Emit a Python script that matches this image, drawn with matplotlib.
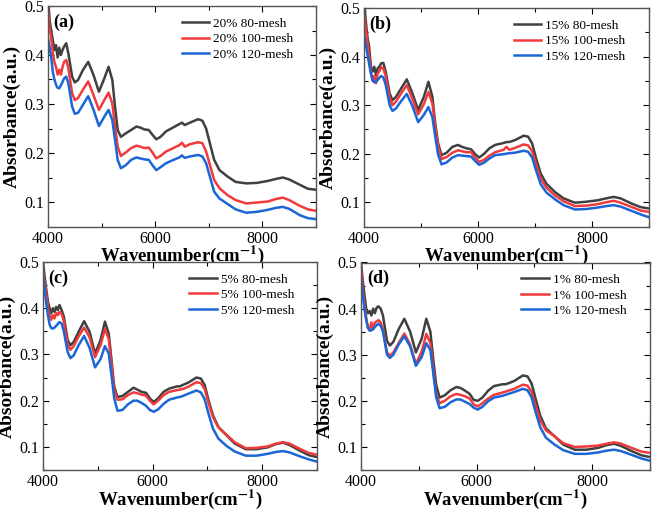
import matplotlib
matplotlib.use("Agg")
import matplotlib.pyplot as plt
from matplotlib.ticker import MultipleLocator

plt.rcParams['font.family'] = ['Liberation Serif', 'DejaVu Serif']
plt.rcParams['mathtext.fontset'] = 'stix'

wavenumber = [4000, 4030, 4060, 4090, 4120, 4150, 4180, 4210, 4240, 4270, 4300, 4340, 4380,
              4450, 4500, 4560, 4650, 4750, 4850, 4950, 5050, 5130, 5200, 5250, 5300, 5360,
              5450, 5550, 5650, 5720, 5800, 5880, 5950, 6020, 6100, 6200, 6300, 6450, 6500,
              6550, 6650, 6800, 6880, 6950, 7020, 7100, 7200, 7350, 7500, 7700, 7900, 8100,
              8250, 8380, 8500, 8700, 8850, 9000]

# (a) 20%
a_80 = [0.52, 0.47, 0.45, 0.43, 0.41, 0.42, 0.395, 0.415, 0.40, 0.41, 0.417, 0.424, 0.403,
        0.356, 0.344, 0.349, 0.369, 0.386, 0.359, 0.325, 0.352, 0.376, 0.349, 0.295, 0.247, 0.233,
        0.240, 0.247, 0.254, 0.252, 0.248, 0.247, 0.237, 0.228, 0.233, 0.244, 0.250, 0.259, 0.262,
        0.257, 0.262, 0.269, 0.266, 0.250, 0.220, 0.186, 0.165, 0.152, 0.141, 0.138, 0.139, 0.143,
        0.147, 0.150, 0.146, 0.135, 0.127, 0.125]
a_100 = [0.49, 0.455, 0.435, 0.405, 0.385, 0.375, 0.36, 0.37, 0.36, 0.375, 0.386, 0.39, 0.373,
         0.322, 0.308, 0.312, 0.329, 0.346, 0.318, 0.288, 0.308, 0.323, 0.301, 0.254, 0.213, 0.194,
         0.201, 0.210, 0.215, 0.213, 0.210, 0.211, 0.201, 0.189, 0.194, 0.203, 0.208, 0.216, 0.221,
         0.213, 0.218, 0.222, 0.220, 0.203, 0.176, 0.145, 0.128, 0.114, 0.104, 0.097, 0.099, 0.101,
         0.106, 0.109, 0.104, 0.092, 0.085, 0.082]
a_120 = [0.435, 0.415, 0.395, 0.365, 0.35, 0.339, 0.333, 0.332, 0.338, 0.345, 0.352, 0.356, 0.342,
         0.295, 0.280, 0.282, 0.298, 0.316, 0.288, 0.255, 0.274, 0.288, 0.267, 0.227, 0.186, 0.169,
         0.175, 0.186, 0.191, 0.189, 0.187, 0.186, 0.175, 0.165, 0.171, 0.179, 0.184, 0.191, 0.195,
         0.190, 0.193, 0.196, 0.193, 0.179, 0.152, 0.121, 0.107, 0.096, 0.085, 0.078, 0.080, 0.084,
         0.088, 0.090, 0.086, 0.073, 0.067, 0.065]

# (b) 15%
b_80 = [0.52, 0.475, 0.44, 0.42, 0.38, 0.369, 0.379, 0.362, 0.376, 0.379, 0.386, 0.387, 0.369,
        0.324, 0.31, 0.317, 0.334, 0.353, 0.324, 0.29, 0.317, 0.348, 0.317, 0.262, 0.221, 0.197,
        0.202, 0.214, 0.218, 0.214, 0.211, 0.209, 0.199, 0.192, 0.199, 0.211, 0.218, 0.222, 0.224,
        0.224, 0.228, 0.237, 0.235, 0.221, 0.19, 0.159, 0.138, 0.121, 0.108, 0.099, 0.101, 0.104,
        0.108, 0.111, 0.108, 0.097, 0.090, 0.087]
b_100 = [0.49, 0.46, 0.43, 0.40, 0.37, 0.35, 0.36, 0.345, 0.365, 0.37, 0.378, 0.375, 0.36,
         0.315, 0.300, 0.307, 0.324, 0.341, 0.313, 0.281, 0.302, 0.327, 0.303, 0.255, 0.215, 0.189,
         0.193, 0.202, 0.207, 0.205, 0.203, 0.203, 0.192, 0.183, 0.187, 0.196, 0.203, 0.208, 0.214,
         0.208, 0.212, 0.219, 0.217, 0.205, 0.178, 0.148, 0.130, 0.114, 0.102, 0.092, 0.093, 0.096,
         0.100, 0.103, 0.099, 0.090, 0.083, 0.080]
b_120 = [0.445, 0.425, 0.405, 0.385, 0.365, 0.352, 0.347, 0.348, 0.352, 0.356, 0.360, 0.357, 0.342,
         0.300, 0.288, 0.293, 0.308, 0.323, 0.298, 0.265, 0.280, 0.296, 0.275, 0.235, 0.198, 0.178,
         0.182, 0.192, 0.197, 0.196, 0.195, 0.194, 0.185, 0.177, 0.181, 0.190, 0.197, 0.199, 0.200,
         0.201, 0.202, 0.206, 0.204, 0.192, 0.165, 0.137, 0.120, 0.106, 0.094, 0.085, 0.086, 0.089,
         0.092, 0.094, 0.091, 0.082, 0.075, 0.069]

# (c) 5%
c_80 = [0.50, 0.468, 0.44, 0.414, 0.40, 0.389, 0.40, 0.392, 0.403, 0.396, 0.407, 0.396, 0.382,
        0.331, 0.320, 0.327, 0.349, 0.372, 0.349, 0.302, 0.331, 0.371, 0.345, 0.288, 0.23, 0.208,
        0.210, 0.219, 0.228, 0.224, 0.219, 0.217, 0.205, 0.197, 0.205, 0.219, 0.226, 0.231, 0.231,
        0.234, 0.239, 0.250, 0.248, 0.234, 0.201, 0.169, 0.143, 0.125, 0.107, 0.095, 0.095, 0.099,
        0.106, 0.109, 0.104, 0.091, 0.082, 0.078]
c_100 = [0.48, 0.455, 0.43, 0.40, 0.385, 0.375, 0.385, 0.378, 0.39, 0.385, 0.392, 0.388, 0.372,
         0.321, 0.310, 0.318, 0.339, 0.358, 0.337, 0.294, 0.320, 0.355, 0.333, 0.280, 0.224, 0.202,
         0.203, 0.212, 0.218, 0.216, 0.213, 0.211, 0.200, 0.192, 0.200, 0.212, 0.219, 0.223, 0.224,
         0.225, 0.230, 0.240, 0.238, 0.225, 0.195, 0.165, 0.142, 0.126, 0.110, 0.097, 0.098, 0.101,
         0.107, 0.110, 0.107, 0.095, 0.087, 0.083]
c_120 = [0.475, 0.44, 0.41, 0.385, 0.365, 0.357, 0.356, 0.358, 0.362, 0.366, 0.370, 0.367, 0.350,
         0.305, 0.292, 0.298, 0.320, 0.340, 0.314, 0.272, 0.290, 0.318, 0.302, 0.255, 0.205, 0.178,
         0.180, 0.192, 0.200, 0.200, 0.195, 0.189, 0.180, 0.176, 0.181, 0.193, 0.202, 0.207, 0.208,
         0.210, 0.215, 0.222, 0.218, 0.203, 0.172, 0.140, 0.118, 0.102, 0.090, 0.081, 0.081, 0.085,
         0.089, 0.091, 0.088, 0.079, 0.073, 0.068]

# (d) 1%
d_80 = [0.50, 0.46, 0.43, 0.40, 0.39, 0.395, 0.385, 0.40, 0.39, 0.402, 0.405, 0.400, 0.385,
        0.330, 0.320, 0.328, 0.355, 0.378, 0.350, 0.305, 0.335, 0.378, 0.350, 0.290, 0.235, 0.207,
        0.212, 0.223, 0.230, 0.228, 0.222, 0.215, 0.202, 0.200, 0.207, 0.222, 0.232, 0.236, 0.236,
        0.238, 0.243, 0.255, 0.253, 0.238, 0.205, 0.168, 0.140, 0.123, 0.105, 0.094, 0.094, 0.098,
        0.104, 0.107, 0.102, 0.090, 0.082, 0.078]
d_100 = [0.49, 0.44, 0.41, 0.38, 0.36, 0.355, 0.37, 0.355, 0.37, 0.372, 0.375, 0.370, 0.355,
         0.305, 0.298, 0.305, 0.325, 0.346, 0.322, 0.280, 0.307, 0.345, 0.325, 0.270, 0.215, 0.195,
         0.200, 0.210, 0.215, 0.213, 0.210, 0.205, 0.192, 0.188, 0.195, 0.205, 0.213, 0.218, 0.220,
         0.222, 0.226, 0.235, 0.233, 0.220, 0.190, 0.158, 0.136, 0.123, 0.108, 0.100, 0.101, 0.103,
         0.107, 0.110, 0.107, 0.097, 0.090, 0.087]
d_120 = [0.465, 0.43, 0.40, 0.375, 0.358, 0.352, 0.353, 0.356, 0.360, 0.364, 0.367, 0.363, 0.350,
         0.300, 0.293, 0.300, 0.322, 0.340, 0.318, 0.276, 0.295, 0.325, 0.310, 0.260, 0.208, 0.184,
         0.187, 0.197, 0.203, 0.203, 0.198, 0.193, 0.185, 0.181, 0.187, 0.199, 0.207, 0.211, 0.213,
         0.215, 0.219, 0.226, 0.223, 0.208, 0.176, 0.143, 0.120, 0.105, 0.093, 0.085, 0.085, 0.088,
         0.092, 0.094, 0.091, 0.082, 0.075, 0.070]

panel_tags = ['(a)', '(b)', '(c)', '(d)']
concentrations = ['20%', '15%', '5%', '1%']
meshes = ['80-mesh', '100-mesh', '120-mesh']
series = [[a_80, a_100, a_120], [b_80, b_100, b_120], [c_80, c_100, c_120], [d_80, d_100, d_120]]
line_colors = ['#404040', '#f03a3c', '#1a66d6']

W, H = 652, 511
# axes boxes in pixels: left, top, right, bottom
boxes = [(48, 6, 316, 226.5), (364, 8, 649, 226.5), (43, 262, 317, 470), (361, 262.5, 650, 470)]


def draw_panel(fig, box, tag, conc, data):
    l, t, r, b = box
    ax = fig.add_axes([l / W, 1 - b / H, (r - l) / W, (b - t) / H])
    for values, mesh, col in zip(data, meshes, line_colors):
        ax.plot(wavenumber, values, color=col, linewidth=1.8, label=conc + ' ' + mesh)
    ax.set_xlim(4000, 9000)
    ax.set_ylim(0.05, 0.5)
    ax.xaxis.set_major_locator(MultipleLocator(2000))
    ax.xaxis.set_minor_locator(MultipleLocator(1000))
    ax.yaxis.set_major_locator(MultipleLocator(0.1))
    ax.yaxis.set_minor_locator(MultipleLocator(0.05))
    ax.tick_params(which='both', direction='in', top=True, right=True, labelsize=11.5, pad=3)
    ax.tick_params(which='major', length=4, width=0.8)
    ax.tick_params(which='minor', length=3, width=0.8)
    ax.set_xlabel(r'Wavenumber(cm$^{\mathbf{-1}}$)', fontsize=13.5, fontweight='bold', labelpad=-2)
    ax.set_ylabel('Absorbance(a.u.)', fontsize=14, fontweight='bold', labelpad=2)
    ax.text(0.02, 0.965, tag, transform=ax.transAxes, fontsize=13, fontweight='bold', va='top', ha='left')
    for s in ax.spines.values():
        s.set_color('#555555')
        s.set_linewidth(1.0)
    ax.legend(loc='upper right', frameon=False, fontsize=9.5, handlelength=2.1, handletextpad=0.3,
              labelspacing=0.25, borderaxespad=0.3, bbox_to_anchor=(0.95, 0.99))
    return ax


fig = plt.figure(figsize=(W / 100, H / 100), dpi=100)
for box, tag, conc, data in zip(boxes, panel_tags, concentrations, series):
    draw_panel(fig, box, tag, conc, data)
fig.savefig('out.png', dpi=100)
